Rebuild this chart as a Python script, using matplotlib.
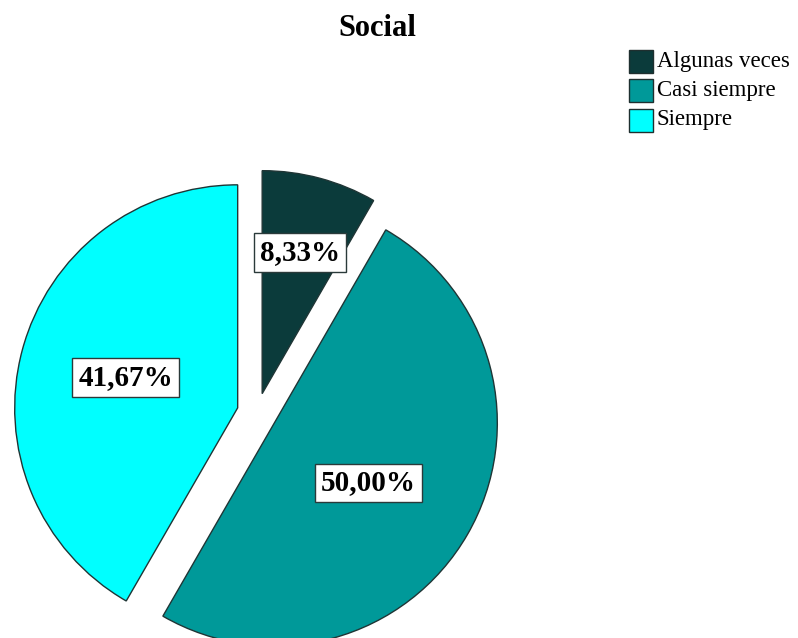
import numpy as np
import matplotlib
matplotlib.use("Agg")
import matplotlib.pyplot as plt
from matplotlib.patches import Rectangle

# Data
categories = ["Algunas veces", "Casi siempre", "Siempre"]
values = [8.33, 50.00, 41.67]
colors = ["#0b3b3b", "#009999", "#00ffff"]
title = "Social"

W, H = 798, 638
fig = plt.figure(figsize=(W / 100, H / 100), dpi=100)
fig.patch.set_facecolor("white")
ax = fig.add_axes([0, 0, 1, 1])

serif = ["Liberation Serif", "DejaVu Serif"]

wedges, _ = ax.pie(
    values,
    colors=colors,
    startangle=90,
    counterclock=False,
    center=(257, H - 413),
    radius=223,
    explode=[20, 20, 20],
    wedgeprops=dict(edgecolor="#1f3535", linewidth=1.0),
)
ax.set_xlim(0, W)
ax.set_ylim(0, H)
ax.set_aspect("equal")
ax.axis("off")

# Percentage labels inside each wedge (distance and small angular offset)
label_dist = [0.655, 0.50, 0.52]
label_turn = [0.0, -2.5, 0.0]
for w, v, d, t in zip(wedges, values, label_dist, label_turn):
    th = np.deg2rad((w.theta1 + w.theta2) / 2 + t)
    cx, cy = w.center
    x = cx + w.r * d * np.cos(th)
    y = cy + w.r * d * np.sin(th)
    txt = f"{v:.2f}".replace(".", ",") + "%"
    ax.text(x, y, txt, ha="center", va="center", fontsize=21,
            fontweight="bold", family=serif, color="black",
            bbox=dict(boxstyle="square,pad=0.2", facecolor="white",
                      edgecolor="#2a3a3a", linewidth=1.0))

# Title
fig.text(377.5 / W, 1 - 28 / H, title, ha="center", va="center",
         fontsize=22, fontweight="bold", family=serif)

# Legend
row_y = [61.5, 90.5, 120.0]
for cat, col, yy in zip(categories, colors, row_y):
    ax.add_patch(Rectangle((629, H - yy - 11.5), 24, 23, facecolor=col,
                           edgecolor="#1f2f2f", linewidth=1.0))
    ax.text(657, H - yy, cat, ha="left", va="center", fontsize=16.5,
            family=serif, color="black")

fig.savefig("out.png", dpi=100, facecolor="white")
